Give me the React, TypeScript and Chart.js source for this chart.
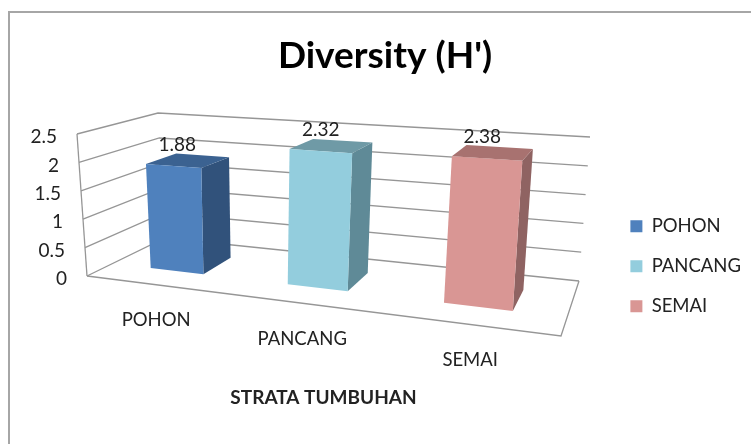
import React, { useEffect, useRef } from "react";
import { Chart, registerables } from "chart.js";

Chart.register(...registerables);

const categories = ["POHON", "PANCANG", "SEMAI"];
const pohonValues = [1.88, null, null];
const pancangValues = [null, 2.32, null];
const semaiValues = [null, null, 2.38];
const titleText = "Diversity (H')";
const axisTitleText = "STRATA TUMBUHAN";
const frontColors = ["#4f81bd", "#93cddd", "#d99694"];
const topColors = ["#3b6291", "#6f9aa6", "#a87270"];
const sideColors = ["#31527b", "#5f8a97", "#8f6362"];

type Pt = [number, number];
const floorQuad: Pt[] = [[87, 276], [561, 336], [579, 281], [165, 238]];
const ceilQuad: Pt[] = [[77, 134], [572, 166.5], [590, 137], [158, 113]];
const depthFront = 0.3;
const depthBack = 0.7;
const FONT = "Lato, Carlito, Calibri, sans-serif";

function homography(q: Pt[]) {
  const [[x0, y0], [x1, y1], [x2, y2], [x3, y3]] = q;
  const dx1 = x1 - x2, dx2 = x3 - x2, sx = x0 - x1 + x2 - x3;
  const dy1 = y1 - y2, dy2 = y3 - y2, sy = y0 - y1 + y2 - y3;
  const den = dx1 * dy2 - dx2 * dy1;
  const g = (sx * dy2 - dx2 * sy) / den;
  const h = (dx1 * sy - sx * dy1) / den;
  const a = x1 - x0 + g * x1, b = x3 - x0 + h * x3, c = x0;
  const d = y1 - y0 + g * y1, e = y3 - y0 + h * y3, f = y0;
  return (u: number, w: number): Pt => {
    const k = g * u + h * w + 1;
    return [(a * u + b * w + c) / k, (d * u + e * w + f) / k];
  };
}
const floorH = homography(floorQuad);
const ceilH = homography(ceilQuad);
function project(u: number, v: number, w: number): Pt {
  const p = floorH(u, w);
  const q = ceilH(u, w);
  return [p[0] + (q[0] - p[0]) * v, p[1] + (q[1] - p[1]) * v];
}

function poly(ctx: CanvasRenderingContext2D, pts: Pt[], fill: string) {
  ctx.beginPath();
  pts.forEach((p, i) => (i ? ctx.lineTo(p[0], p[1]) : ctx.moveTo(p[0], p[1])));
  ctx.closePath();
  ctx.fillStyle = fill;
  ctx.fill();
}
function path(ctx: CanvasRenderingContext2D, pts: Pt[]) {
  ctx.beginPath();
  pts.forEach((p, i) => (i ? ctx.lineTo(p[0], p[1]) : ctx.moveTo(p[0], p[1])));
  ctx.stroke();
}

const perspective = {
  id: "perspective",
  beforeDraw(chart: any) {
    const ctx = chart.ctx;
    ctx.save();
    ctx.strokeStyle = "#a6a6a6";
    ctx.lineWidth = 2;
    path(ctx, [[9, 444], [9, 12], [751, 12]]);
    ctx.restore();
  },
  beforeDatasetsDraw(chart: any) {
    const ctx: CanvasRenderingContext2D = chart.ctx;
    const xs = chart.scales.x;
    const ys = chart.scales.y;
    const toU = (px: number) => (px - xs.left) / (xs.right - xs.left);
    const toV = (py: number) => (ys.bottom - py) / (ys.bottom - ys.top);

    ctx.save();
    ctx.strokeStyle = "#969696";
    ctx.lineWidth = 1.3;
    path(ctx, [project(0, 0, 0), project(1, 0, 0), project(1, 0, 1)]);
    path(ctx, [project(0, 0, 0), project(0, 1, 0)]);
    ys.ticks.forEach((t: any) => {
      const v = toV(ys.getPixelForValue(t.value));
      path(ctx, [project(0, v, 0), project(0, v, 1), project(1, v, 1)]);
    });

    ctx.font = `19px ${FONT}`;
    ctx.fillStyle = "#222";
    ctx.textBaseline = "middle";
    ctx.textAlign = "right";
    ys.ticks.forEach((t: any) => {
      const p = project(0, toV(ys.getPixelForValue(t.value)), 0);
      ctx.fillText(t.label, p[0] - 20, p[1] + 3);
    });

    chart.data.datasets.forEach((ds: any, di: number) => {
      chart.getDatasetMeta(di).data.forEach((el: any, i: number) => {
        if (ds.data[i] == null) return;
        const u0 = toU(el.x - el.width / 2);
        const u1 = toU(el.x + el.width / 2);
        const v = toV(el.y);
        const w0 = depthFront;
        const w1 = depthBack;
        poly(ctx, [project(u1, 0, w0), project(u1, 0, w1), project(u1, v, w1), project(u1, v, w0)], sideColors[di]);
        poly(ctx, [project(u0, v, w0), project(u1, v, w0), project(u1, v, w1), project(u0, v, w1)], topColors[di]);
        poly(ctx, [project(u0, 0, w0), project(u1, 0, w0), project(u1, v, w0), project(u0, v, w0)], frontColors[di]);
      });
    });

    ctx.fillStyle = "#222";
    ctx.textAlign = "center";
    chart.data.datasets.forEach((ds: any, di: number) => {
      chart.getDatasetMeta(di).data.forEach((el: any, i: number) => {
        if (ds.data[i] == null) return;
        const p = project(toU(el.x), toV(el.y), (depthFront + depthBack) / 2);
        ctx.fillText(String(ds.data[i]), p[0] - 11, p[1] - 16);
      });
    });

    ctx.font = `18.5px ${FONT}`;
    categories.forEach((label, i) => {
      const p = project(toU(xs.getPixelForValue(i)), 0, 0);
      ctx.fillText(label, p[0] + 3, p[1] + 36);
    });

    ctx.font = `bold 19px ${FONT}`;
    ctx.fillText(axisTitleText, 323.5, 398);
    ctx.restore();
    return false;
  },
};

export default function App() {
  const ref = useRef<HTMLCanvasElement>(null);
  useEffect(() => {
    const chart = new Chart(ref.current!, {
      type: "bar",
      data: {
        labels: categories,
        datasets: [
          { label: categories[0], data: pohonValues, backgroundColor: frontColors[0] },
          { label: categories[1], data: pancangValues, backgroundColor: frontColors[1] },
          { label: categories[2], data: semaiValues, backgroundColor: frontColors[2] },
        ],
      } as any,
      options: {
        responsive: false,
        animation: false,
        grouped: false,
        categoryPercentage: 1,
        barPercentage: 0.4,
        layout: { padding: { left: 19, right: 0, top: 0, bottom: 107 } },
        scales: {
          x: { display: false },
          y: {
            display: false,
            min: 0,
            max: 2.5,
            ticks: { stepSize: 0.5, callback: (v: number) => String(v) },
          },
        },
        plugins: {
          tooltip: { enabled: false },
          title: {
            display: true,
            text: titleText,
            color: "#000",
            font: { family: FONT, size: 37, weight: "bold" },
            padding: { top: 34, bottom: 2 },
          },
          legend: {
            display: true,
            position: "right",
            align: "end",
            labels: {
              color: "#222",
              font: { family: FONT, size: 18.5 },
              boxWidth: 12,
              boxHeight: 12,
              padding: 21.5,
            },
          },
        },
      } as any,
      plugins: [perspective],
    });
    return () => chart.destroy();
  }, []);
  return <canvas ref={ref} width={751} height={444} style={{ position: "absolute", left: 0, top: 0, display: "block" }} />;
}
